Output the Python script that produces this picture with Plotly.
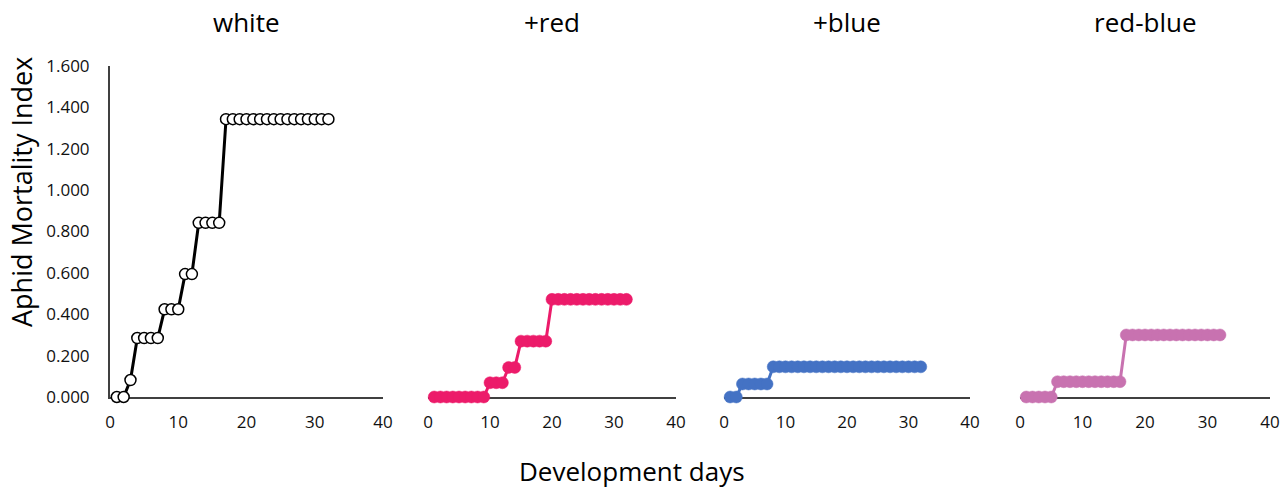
import plotly.graph_objects as go
from plotly.subplots import make_subplots

days = list(range(1, 33))
titles = ["white", "+red", "+blue", "red-blue"]

white = [0, 0, 0.082] + [0.285] * 4 + [0.424] * 3 + [0.594] * 2 + [0.842] * 4 + [1.343] * 16
red = [0] * 9 + [0.069] * 3 + [0.143] * 2 + [0.27] * 5 + [0.472] * 13
blue = [0] * 2 + [0.063] * 5 + [0.146] * 25
redblue = [0] * 5 + [0.074] * 11 + [0.30] * 16

series = [white, red, blue, redblue]
colors = ["#000000", "#EC1B6A", "#4472C4", "#C872B0"]
x_ticks = [0, 10, 20, 30, 40]
y_ticks = [0, 0.2, 0.4, 0.6, 0.8, 1.0, 1.2, 1.4, 1.6]

W, H = 1286, 488
fig = make_subplots(rows=1, cols=4)

px_domains = [(110, 383), (428, 676), (724, 970), (1020, 1270)]
y_dom = [(H - 397) / H, (H - 66) / H]
FONT = "Open Sans, Liberation Sans, sans-serif"

for i, (vals, col) in enumerate(zip(series, colors)):
    if i == 0:
        marker = dict(symbol="circle", size=11, color="white", line=dict(color="black", width=1.5))
    else:
        marker = dict(symbol="circle", size=12, color=col, line=dict(color=col, width=0.5))
    fig.add_trace(
        go.Scatter(x=days, y=vals, mode="lines+markers", line=dict(color=col, width=3),
                   marker=marker, showlegend=False, cliponaxis=False),
        row=1, col=i + 1,
    )
    xa = "xaxis" if i == 0 else f"xaxis{i+1}"
    ya = "yaxis" if i == 0 else f"yaxis{i+1}"
    d = px_domains[i]
    fig.layout[xa].update(
        domain=[d[0] / W, d[1] / W], range=[0, 40], tickvals=x_ticks, automargin=False,
        showgrid=False, zeroline=False, showline=True, linecolor="#404040", linewidth=2,
        layer="below traces",
        ticks="", ticklabelstandoff=9, tickfont=dict(size=17, color="#111", family=FONT),
    )
    fig.layout[ya].update(
        domain=y_dom, range=[0, 1.6], tickvals=y_ticks, tickformat=".3f", automargin=False,
        showgrid=False, zeroline=False, showline=(i == 0), linecolor="#404040", linewidth=2,
        layer="below traces",
        showticklabels=(i == 0), ticks="", ticklabelstandoff=15,
        tickfont=dict(size=17, color="#111", family=FONT),
    )
    cx = (d[0] + d[1]) / 2 / W
    fig.add_annotation(text=titles[i], x=cx, y=(H - 22) / H, xref="paper", yref="paper",
                       showarrow=False, font=dict(size=26, color="black", family=FONT),
                       xanchor="center", yanchor="middle")

fig.add_annotation(text="Development days", x=632 / W, y=(H - 471) / H, xref="paper", yref="paper",
                   showarrow=False, font=dict(size=26, color="black", family=FONT),
                   xanchor="center", yanchor="middle")
fig.add_annotation(text="Aphid Mortality Index", x=21 / W, y=(H - 192) / H, xref="paper", yref="paper",
                   showarrow=False, textangle=-90, font=dict(size=27, color="black", family=FONT),
                   xanchor="center", yanchor="middle")

fig.update_layout(width=W, height=H, margin=dict(l=0, r=0, t=0, b=0, autoexpand=False),
                  plot_bgcolor="white", paper_bgcolor="white", hovermode=False)
fig.write_html("out.html", config={"displayModeBar": False, "staticPlot": True},
               post_script="document.body.style.margin='0';document.body.style.overflow='hidden';")
